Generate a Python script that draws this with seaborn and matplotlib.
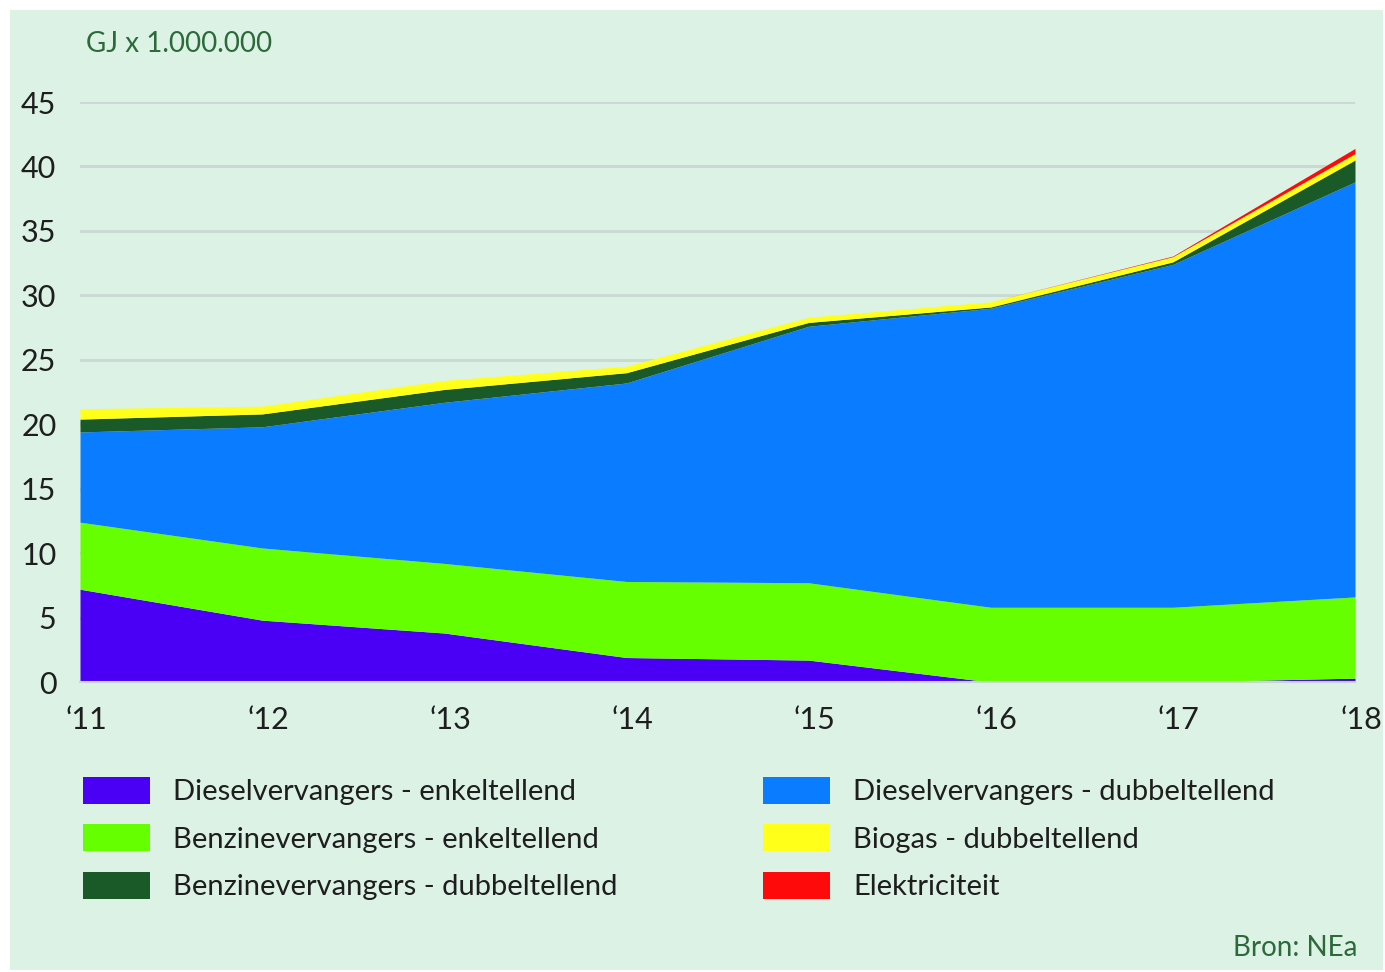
import numpy as np
import pandas as pd
import matplotlib
matplotlib.use("Agg")
import matplotlib.pyplot as plt
import matplotlib.transforms as mtransforms
from matplotlib.patches import Rectangle, Patch
import seaborn as sns

# ---- data (GJ x 1.000.000) ----
years = [2011, 2012, 2013, 2014, 2015, 2016, 2017, 2018]
year_labels = ["\u201811", "\u201812", "\u201813", "\u201814", "\u201815", "\u201816", "\u201817", "\u201818"]
diesel_enkel = [7.2, 4.8, 3.8, 1.9, 1.7, 0.0, 0.0, 0.3]
benzine_enkel = [5.2, 5.6, 5.4, 5.9, 6.0, 5.8, 5.8, 6.3]
diesel_dubbel = [7.0, 9.4, 12.5, 15.4, 19.9, 23.2, 26.6, 32.2]
benzine_dubbel = [1.0, 1.0, 1.0, 0.8, 0.3, 0.1, 0.2, 1.7]
biogas_dubbel = [0.8, 0.6, 0.7, 0.5, 0.4, 0.4, 0.4, 0.5]
elektriciteit = [0.0, 0.0, 0.0, 0.0, 0.0, 0.0, 0.05, 0.4]

series_names = ["Dieselvervangers - enkeltellend", "Benzinevervangers - enkeltellend",
                "Dieselvervangers - dubbeltellend", "Benzinevervangers - dubbeltellend",
                "Biogas - dubbeltellend", "Elektriciteit"]
colors = ["#4a00f5", "#66ff00", "#0a7cff", "#1a5a28", "#ffff1a", "#ff0a0a"]

df = pd.DataFrame({"jaar": years,
                   series_names[0]: diesel_enkel,
                   series_names[1]: benzine_enkel,
                   series_names[2]: diesel_dubbel,
                   series_names[3]: benzine_dubbel,
                   series_names[4]: biogas_dubbel,
                   series_names[5]: elektriciteit})

sns.set_theme(style="white")
plt.rcParams["font.family"] = ["Lato", "DejaVu Sans"]

W, H = 1385, 972
bg = "#dcf2e5"
fig = plt.figure(figsize=(W / 100, H / 100), dpi=100, facecolor="white")
fig.patches.append(Rectangle((10 / W, 2 / H), (1383 - 10) / W, (962 - 2) / H,
                             transform=fig.transFigure, facecolor=bg, edgecolor="none", zorder=-5))

ax = fig.add_axes([80 / W, (H - 682) / H, (1355 - 80) / W, (682 - 102) / H])
ax.set_facecolor("none")
ax.set_zorder(2)

# gridlines
for v in range(5, 50, 5):
    ax.axhline(v, color="#cadad2", lw=2.2, zorder=0)

ys = [df[n].values for n in series_names]
ax.stackplot(df["jaar"].values, *ys, colors=colors, linewidth=0, zorder=2)

ax.set_xlim(2011, 2018)
ax.set_ylim(0, 45)
ax.set_yticks(range(0, 50, 5))
ax.set_xticks(years)
ax.set_xticklabels(year_labels)
ax.tick_params(axis="y", length=0, pad=17, labelsize=22, labelcolor="#1e1e1e")
ax.tick_params(axis="x", length=4, width=1, color="#c8d8d0", pad=13, labelsize=22, labelcolor="#1e1e1e")
offset = mtransforms.ScaledTranslation(6 / 100, 0, fig.dpi_scale_trans)
for lab in ax.get_xticklabels():
    lab.set_transform(lab.get_transform() + offset)
sns.despine(ax=ax, left=True, top=True, right=True, bottom=False)
ax.spines["bottom"].set_color("#c8d8d0")
ax.spines["bottom"].set_linewidth(1.5)
ax.set_xlabel("")
ax.set_ylabel("")

fig.text(86 / W, 1 - 44 / H, "GJ x 1.000.000", color="#2c6a3a", fontsize=20, va="center", ha="left")
fig.text(1357 / W, 1 - 948 / H, "Bron: NEa", color="#2c6a3a", fontsize=20, va="center", ha="right")

handles = [Patch(facecolor=c, edgecolor="none") for c in colors]
left_idx = [0, 1, 3]
right_idx = [2, 4, 5]
common = dict(frameon=False, fontsize=21, handlelength=2.3, handleheight=1.05,
              handletextpad=0.8, labelspacing=0.65, borderpad=0, borderaxespad=0,
              loc="upper left", labelcolor="#1e1e1e")
fig.legend([handles[i] for i in left_idx], [series_names[i] for i in left_idx],
           bbox_to_anchor=(83 / W, 1 - 777 / H), **common)
fig.legend([handles[i] for i in right_idx], [series_names[i] for i in right_idx],
           bbox_to_anchor=(763 / W, 1 - 777 / H), **common)

fig.savefig("out.png", dpi=100, facecolor="white")
